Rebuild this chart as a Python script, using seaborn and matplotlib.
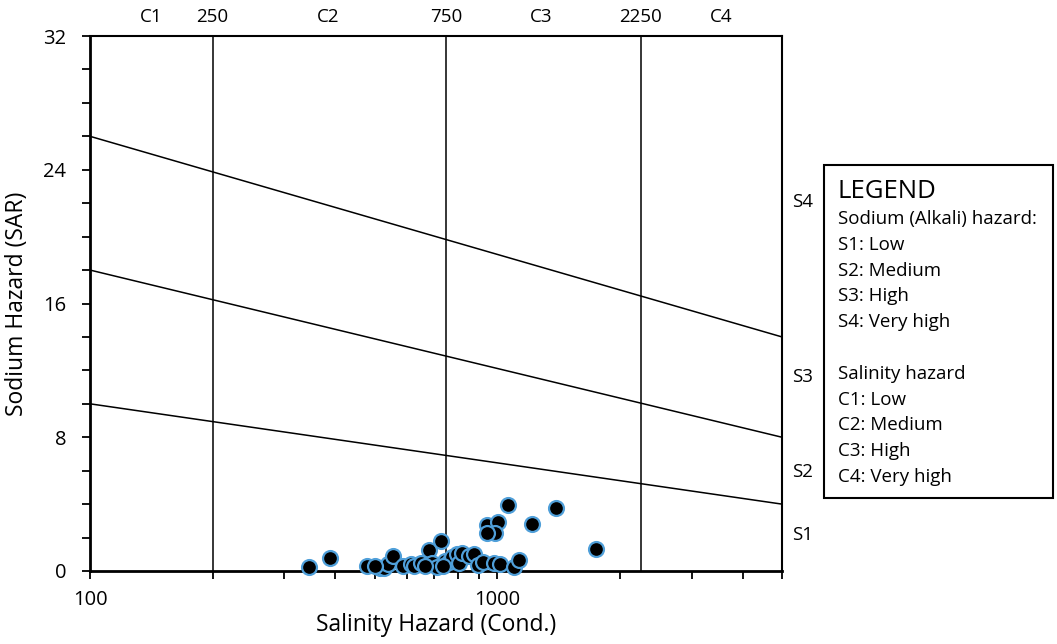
import numpy as np
import pandas as pd
import matplotlib
matplotlib.use("Agg")
import matplotlib.pyplot as plt
import matplotlib.ticker as mticker
from matplotlib.patches import Rectangle
import seaborn as sns

# ---- data ----
ec = [344, 388, 480, 514, 528, 540, 556, 588, 615, 626, 651, 681, 693, 713, 729,
      746, 759, 776, 798, 807, 821, 854, 878, 898, 924, 983, 1017, 1101, 1132,
      945, 1006, 989, 945, 1064, 1218, 1395, 1748, 502, 666, 737]
sar = [0.24, 0.78, 0.30, 0.18, 0.18, 0.42, 0.90, 0.30, 0.42, 0.30, 0.48, 1.26, 0.48, 0.24, 1.80,
       0.60, 0.54, 0.84, 1.02, 0.48, 1.08, 0.90, 1.02, 0.36, 0.54, 0.48, 0.42, 0.24, 0.66,
       2.76, 2.94, 2.28, 2.28, 3.95, 2.82, 3.77, 1.32, 0.30, 0.30, 0.30]

# sodium hazard boundary lines (SAR at EC=100 and EC=5000)
boundary_sar_left = [10, 18, 26]
boundary_sar_right = [4, 8, 14]
boundary_ec_ends = [100, 5000]

# salinity class dividers (as drawn) and their labels
salinity_line_ec = [200, 750, 2250]
salinity_line_labels = ["250", "750", "2250"]
salinity_class_ec = [141, 385, 1280, 3540]
salinity_class_labels = ["C1", "C2", "C3", "C4"]

sodium_class_sar = [2.16, 5.93, 11.6, 22.05]
sodium_class_labels = ["S1", "S2", "S3", "S4"]

legend_lines = ["Sodium (Alkali) hazard:", "S1: Low", "S2: Medium", "S3: High", "S4: Very high",
                "", "Salinity hazard", "C1: Low", "C2: Medium", "C3: High", "C4: Very high"]

sns.set_theme(style="white")
plt.rcParams["font.family"] = ["Open Sans", "DejaVu Sans"]

W, H = 1057, 644
fig = plt.figure(figsize=(W / 100, H / 100), dpi=100)
ax = fig.add_axes([90 / W, 1 - 571 / H, (782 - 90) / W, (571 - 36) / H])

df = pd.DataFrame({"EC": ec, "SAR": sar})
sns.scatterplot(data=df, x="EC", y="SAR", ax=ax, s=115, color="black",
                edgecolor="#4f9fd9", linewidth=1.6, zorder=5, clip_on=False)

ax.set_xscale("log")
ax.set_xlim(100, 5000)
ax.set_ylim(0, 32)

for l, r in zip(boundary_sar_left, boundary_sar_right):
    ax.plot(boundary_ec_ends, [l, r], color="black", lw=1.1, zorder=2)
for xv in salinity_line_ec:
    ax.axvline(xv, color="black", lw=1.1, zorder=2)

# ticks
ax.xaxis.set_major_locator(mticker.FixedLocator([100, 1000]))
ax.xaxis.set_major_formatter(mticker.FixedFormatter(["100", "1000"]))
ax.xaxis.set_minor_locator(mticker.LogLocator(base=10, subs=np.arange(2, 10), numticks=20))
ax.xaxis.set_minor_formatter(mticker.NullFormatter())
ax.yaxis.set_major_locator(mticker.MultipleLocator(8))
ax.yaxis.set_minor_locator(mticker.MultipleLocator(2))
ax.tick_params(axis="both", which="both", direction="out", length=6, width=1.3,
               color="black", labelsize=14.5, labelcolor="black",
               bottom=True, left=True, top=False, right=False)
ax.tick_params(axis="x", which="major", pad=8)
ax.tick_params(axis="y", which="major", pad=11)

for side in ["left", "bottom"]:
    ax.spines[side].set_linewidth(2.0)
for side in ["top", "right"]:
    ax.spines[side].set_linewidth(1.5)
for sp in ax.spines.values():
    sp.set_color("black")
    sp.set_visible(True)

ax.set_xlabel("Salinity Hazard (Cond.)", fontsize=16.5, labelpad=2, color="black")
ax.set_ylabel("Sodium Hazard (SAR)", fontsize=16.5, labelpad=10, color="black")

# top labels
tx = ax.get_xaxis_transform()
for xv, lab in zip(salinity_line_ec, salinity_line_labels):
    ax.text(xv, 1.035, lab, transform=tx, ha="center", va="center", fontsize=13.5, color="black")
for xv, lab in zip(salinity_class_ec, salinity_class_labels):
    ax.text(xv, 1.035, lab, transform=tx, ha="center", va="center", fontsize=13.5, color="black")

# right labels
ty = ax.get_yaxis_transform()
for yv, lab in zip(sodium_class_sar, sodium_class_labels):
    ax.text(1.03, yv, lab, transform=ty, ha="center", va="center", fontsize=13.5, color="black")

# legend box
fig.patches.append(Rectangle((824 / W, 1 - 498 / H), (1053 - 824) / W, (498 - 165) / H,
                             transform=fig.transFigure, fill=False, edgecolor="black", lw=1.5))
fig.text(838 / W, 1 - 192 / H, "LEGEND", fontsize=18.5, ha="left", va="center", color="black")
y0 = 219
for i, line in enumerate(legend_lines):
    if line:
        fig.text(838 / W, 1 - (y0 + i * 25.8) / H, line, fontsize=13.5, ha="left",
                 va="center", color="black")

fig.savefig("out.png", dpi=100)
